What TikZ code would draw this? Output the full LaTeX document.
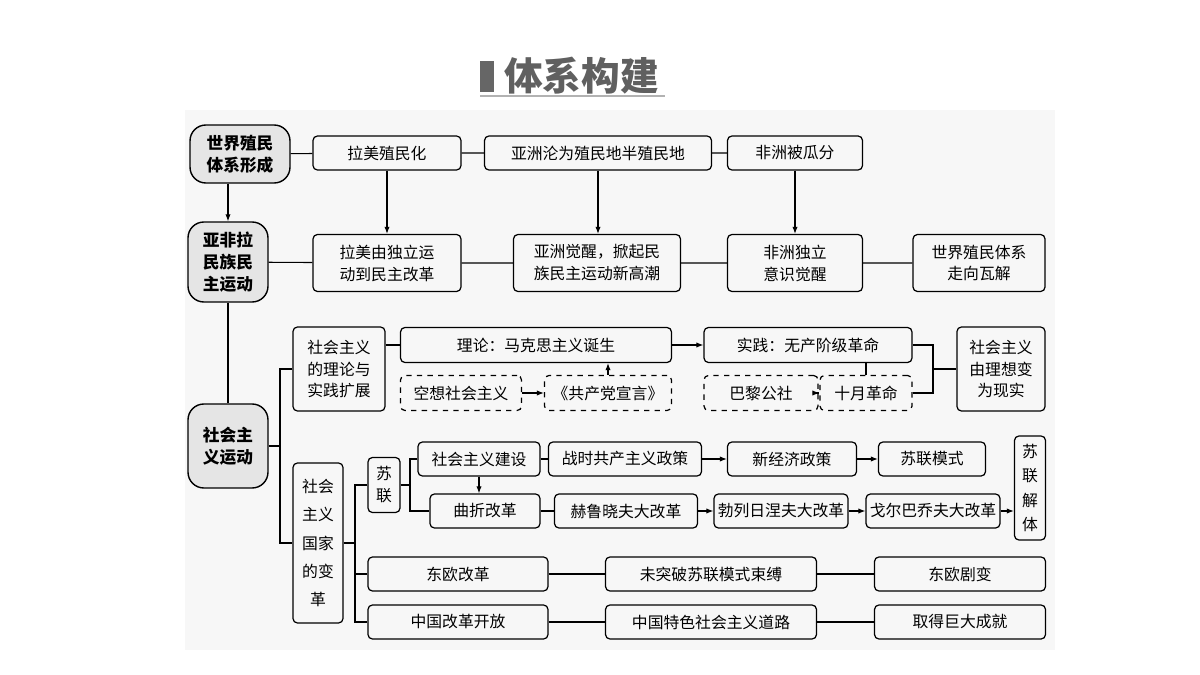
\documentclass[tikz,border=0pt]{standalone}
\usepackage{fontspec}
\newfontfamily\cjk{Noto Sans CJK SC}
\usetikzlibrary{positioning,arrows.meta}
\tikzset{%
  >=latex,
  box/.style={draw,rounded corners=2.5pt,line width=0.7pt,inner sep=1pt,align=center,
    font=\cjk\fontsize{9}{12.5}\selectfont,minimum height=0.68cm},
  dbox/.style={box,dashed},
  head/.style={box,fill=gray!20,rounded corners=9pt,line width=0.8pt,
    font=\cjk\bfseries\fontsize{9.5}{12.5}\selectfont},
  link/.style={line width=0.6pt},
  arr/.style={link,-{Latex[length=4pt,width=3pt]}}
}
\begin{document}
\begin{tikzpicture}[x=0.02cm,y=-0.02cm]
	\useasboundingbox (0,0) rectangle (1200,675);
	%% background and title
	\fill[gray!6] (185,110) rectangle (1055,650);
	\fill[gray!80!black] (480,61) rectangle (494,92);
	\node[font=\cjk\bfseries\fontsize{22}{24}\selectfont,text=gray!75!black,anchor=west] (title) at (498,76) {体系构建};
	\draw[gray!60,line width=0.8pt] (480,96) -- (665,96);
	
	%% left column
	\node[head,minimum width=2.0cm,minimum height=1.16cm] (A1) at (240,154) {世界殖民\\体系形成};
	\node[head,minimum width=1.6cm,minimum height=1.6cm] (A2) at (228,262) {亚非拉\\民族民\\主运动};
	\node[head,minimum width=1.6cm,minimum height=1.68cm] (A3) at (228,446) {社会主\\义运动};
	\draw[arr] (A1.south -| A2) -- (A2.north);
	\draw[link] (A2) -- (A3);
	
	%% colonial system
	\node[box,minimum width=2.96cm] (lmzm) at (387,153) {拉美殖民化};
	\node[box,minimum width=4.54cm] (yzln) at (598,153) {亚洲沦为殖民地半殖民地};
	\node[box,minimum width=2.7cm] (fzbg) at (795,153) {非洲被瓜分};
	\node[box,minimum width=2.96cm,minimum height=1.14cm] (lmdl) at (387,263) {拉美由独立运\\动到民主改革};
	\node[box,minimum width=3.34cm,minimum height=1.14cm] (yzjx) at (597,263) {亚洲觉醒，掀起民\\族民主运动新高潮};
	\node[box,minimum width=2.7cm,minimum height=1.14cm] (fzdl) at (795,263) {非洲独立\\意识觉醒};
	\node[box,minimum width=2.64cm,minimum height=1.14cm] (wjzx) at (979,263) {世界殖民体系\\走向瓦解};
	\draw[link] (A1) -- (lmzm) -- (yzln) -- (fzbg);
	\draw[link] (A2) -- (lmdl) -- (yzjx) -- (fzdl) -- (wjzx);
	\foreach \a/\b in {lmzm/lmdl,yzln/yzjx,fzbg/fzdl}
	  \draw[arr] (\a.south) -- (\a.south |- \b.north);
	
	%% socialist theory and practice
	\node[box,minimum width=1.84cm,minimum height=1.68cm] (llsj) at (339,369) {社会主义\\的理论与\\实践扩展};
	\node[box,minimum width=1.0cm,minimum height=3.2cm,font=\cjk\fontsize{9}{16}\selectfont] (gjbg) at (318,543) {社会\\主义\\国家\\的变\\革};
	\coordinate (j1) at (280,446);
	\draw[link] (A3) -- (j1);
	\draw[link] (llsj.west) -| (j1) |- (gjbg.west);
	\node[box,minimum width=5.42cm,minimum height=0.7cm] (lilun) at (536,345) {理论：马克思主义诞生};
	\node[dbox,minimum width=2.42cm,minimum height=0.7cm] (kxsh) at (461,393) {空想社会主义};
	\node[dbox,minimum width=2.54cm,minimum height=0.7cm] (xuanyan) at (608,393) {《共产党宣言》};
	\node[box,minimum width=4.16cm,minimum height=0.7cm] (shijian) at (808,345) {实践：无产阶级革命};
	\node[dbox,minimum width=2.28cm,minimum height=0.7cm] (bali) at (761,393) {巴黎公社};
	\node[dbox,minimum width=1.84cm,minimum height=0.7cm] (shiyue) at (866,393) {十月革命};
	\node[box,minimum width=1.76cm,minimum height=1.68cm] (xianshi) at (1001,369) {社会主义\\由理想变\\为现实};
	\draw[link] (llsj.east |- lilun) -- (lilun);
	\draw[arr] (kxsh) -- (xuanyan);
	\draw[arr] (xuanyan.north) -- (xuanyan.north |- lilun.south);
	\draw[arr] (lilun) -- (shijian);
	\draw[arr] (bali) -- (shiyue);
	\draw[link] (shiyue.north) -- (shiyue.north |- shijian.south);
	\coordinate (j4) at (933,369);
	\draw[link] (shijian.east) -| (j4) |- (shiyue.east);
	\draw[link] (j4) -- (xianshi.west);
	
	%% reforms of socialist countries
	\node[box,minimum width=0.64cm,minimum height=1.1cm] (sulian) at (384,485) {苏\\联};
	\node[box,minimum width=2.44cm] (jianshe) at (479,459) {社会主义建设};
	\node[box,minimum width=3.06cm] (zhanshi) at (625,459) {战时共产主义政策};
	\node[box,minimum width=2.58cm] (xjj) at (792,459) {新经济政策};
	\node[box,minimum width=2.14cm] (slms) at (932,459) {苏联模式};
	\node[box,minimum width=2.2cm] (quzhe) at (485,511) {曲折改革};
	\node[box,minimum width=2.86cm] (hlxf) at (626,511) {赫鲁晓夫大改革};
	\node[box,minimum width=2.68cm] (blrn) at (781,511) {勃列日涅夫大改革};
	\node[box,minimum width=2.68cm] (gebq) at (933,511) {戈尔巴乔夫大改革};
	\node[box,minimum width=0.62cm,minimum height=2.08cm,font=\cjk\fontsize{9}{14}\selectfont] (jieti) at (1030,488) {苏\\联\\解\\体};
	\node[box,minimum width=3.6cm] (dogg) at (458,574) {东欧改革};
	\node[box,minimum width=4.22cm] (wtp) at (711,574) {未突破苏联模式束缚};
	\node[box,minimum width=3.42cm] (dojb) at (960,574) {东欧剧变};
	\node[box,minimum width=3.6cm] (zggg) at (458,622) {中国改革开放};
	\node[box,minimum width=4.22cm] (zgts) at (711,622) {中国特色社会主义道路};
	\node[box,minimum width=3.42cm] (qdcj) at (960,622) {取得巨大成就};
	\coordinate (j2) at (355,543);
	\draw[link] (gjbg) -- (j2);
	\draw[link] (sulian.west) -| (j2) |- (zggg.west);
	\draw[link] (dogg.west) -- (dogg.west -| j2);
	\coordinate (j3) at (410,485);
	\draw[link] (sulian) -- (j3);
	\draw[link] (jianshe.west) -| (j3) |- (quzhe.west);
	\draw[link] (jianshe) -- (zhanshi);
	\draw[arr] (zhanshi) -- (xjj);
	\draw[arr] (xjj) -- (slms);
	\draw[arr] (jianshe.south) -- (jianshe.south |- quzhe.north);
	\draw[link] (quzhe) -- (hlxf);
	\draw[arr] (hlxf) -- (blrn);
	\draw[arr] (blrn) -- (gebq);
	\draw[arr] (gebq) -- (gebq -| jieti.west);
	\draw[link] (dogg) -- (wtp) -- (dojb);
	\draw[link] (zggg) -- (zgts) -- (qdcj);
\end{tikzpicture}
\end{document}
